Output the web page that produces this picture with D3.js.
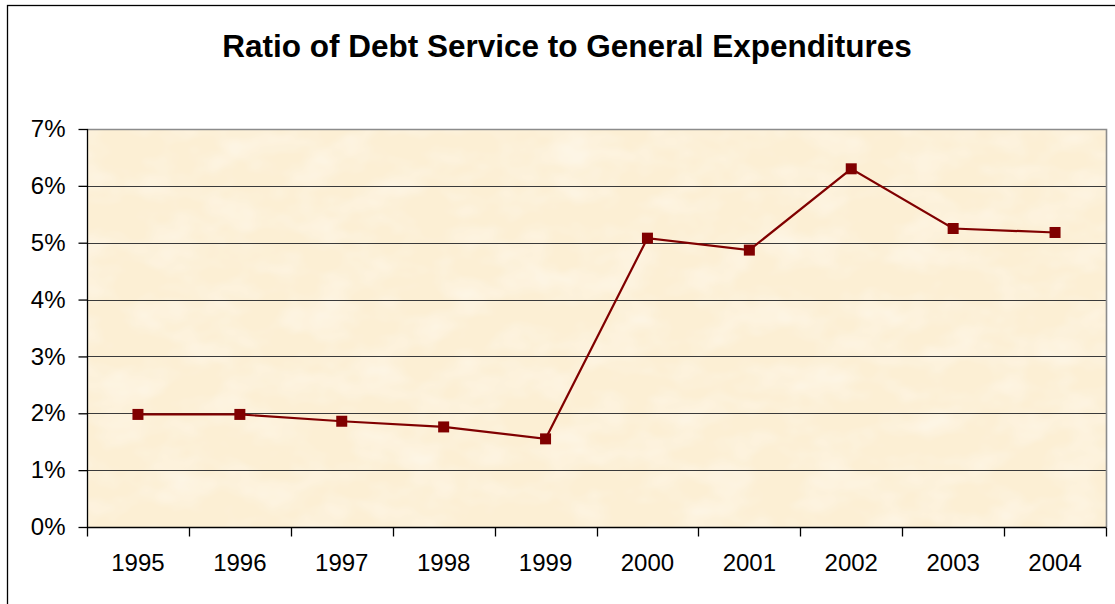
<!DOCTYPE html>
<html>
<head>
<meta charset="utf-8">
<script src="https://cdn.jsdelivr.net/npm/d3@7"></script>
<style>
  html, body { margin: 0; padding: 0; background: #ffffff; }
  svg { display: block; }
  text { font-family: "Liberation Sans", Arial, sans-serif; fill: #000; }
</style>
</head>
<body>
<svg id="chart" width="1115" height="604"></svg>
<script>
// Debt service as a share of general expenditures, by fiscal year
const years = ["1995", "1996", "1997", "1998", "1999", "2000", "2001", "2002", "2003", "2004"];
const ratios = [0.0198, 0.0198, 0.0186, 0.0176, 0.0155, 0.0508, 0.0487, 0.0630, 0.0525, 0.0518];
const yTicks = [0, 0.01, 0.02, 0.03, 0.04, 0.05, 0.06, 0.07];
const titleText = "Ratio of Debt Service to General Expenditures";

const svg = d3.select("#chart");
const W = 1115, H = 604;
const plot = { left: 87, right: 1106, top: 129, bottom: 527 };
const font = "'Liberation Sans', Arial, sans-serif";

// Outer chart frame
svg.append("rect")
  .attr("x", 7.5).attr("y", 5.5)
  .attr("width", W).attr("height", H)
  .attr("fill", "#fff").attr("stroke", "#000").attr("stroke-width", 1.3);

// Parchment texture for the plot area
const defs = svg.append("defs");
const filt = defs.append("filter").attr("id", "paper")
  .attr("x", 0).attr("y", 0).attr("width", "100%").attr("height", "100%");
filt.append("feTurbulence").attr("type", "fractalNoise")
  .attr("baseFrequency", "0.02 0.03").attr("numOctaves", 3).attr("seed", 11).attr("result", "noise");
filt.append("feColorMatrix").attr("in", "noise").attr("type", "matrix")
  .attr("values", "0 0 0 0 1  0 0 0 0 0.975  0 0 0 0 0.93  0.9 0 0 0 -0.35")
  .attr("result", "spots");
filt.append("feFlood").attr("flood-color", "#fcefd4").attr("result", "base");
filt.append("feComposite").attr("in", "spots").attr("in2", "base").attr("operator", "over");

const x = d3.scaleBand().domain(years).range([plot.left, plot.right]);
const y = d3.scaleLinear().domain([0, 0.07]).range([plot.bottom, plot.top]);

svg.append("rect")
  .attr("x", plot.left).attr("y", plot.top)
  .attr("width", plot.right - plot.left).attr("height", plot.bottom - plot.top)
  .attr("fill", "#fcefd4").attr("filter", "url(#paper)");

// Horizontal gridlines
svg.append("g").selectAll("line")
  .data(yTicks.filter(d => d > 0 && d < 0.07))
  .join("line")
  .attr("x1", plot.left).attr("x2", plot.right)
  .attr("y1", d => Math.round(y(d)) + 0.5).attr("y2", d => Math.round(y(d)) + 0.5)
  .attr("stroke", "#3a3a3a").attr("stroke-width", 1.2);

// Plot border: gray top and right edges
svg.append("path")
  .attr("d", `M${plot.left},${plot.top + 0.5}H${plot.right + 0.5}V${plot.bottom}`)
  .attr("fill", "none").attr("stroke", "#8c8c8c").attr("stroke-width", 1.6);

// Y axis
const yAxis = svg.append("g")
  .attr("transform", `translate(${plot.left + 0.5},0)`)
  .call(d3.axisLeft(y).tickValues(yTicks).tickFormat(d3.format(".0%")).tickSize(9).tickPadding(13));
yAxis.selectAll("text").attr("font-size", 24).style("font-family", font);
yAxis.selectAll("line, path").attr("stroke", "#000").attr("stroke-width", 1.3);
yAxis.select(".domain").attr("d", `M0,${plot.top}V${plot.bottom}`);

// X axis with ticks at category boundaries
const xAxis = svg.append("g")
  .attr("transform", `translate(0,${plot.bottom + 0.5})`)
  .call(d3.axisBottom(x).tickSize(0).tickPadding(26));
xAxis.selectAll("text").attr("font-size", 24).style("font-family", font);
xAxis.select(".domain").attr("d", `M${plot.left},0H${plot.right + 0.5}`)
  .attr("stroke", "#000").attr("stroke-width", 1.3);
xAxis.selectAll("line.bound")
  .data(years.map(d => x(d)).concat([plot.right]))
  .join("line").attr("class", "bound")
  .attr("x1", d => Math.round(d) + 0.5).attr("x2", d => Math.round(d) + 0.5)
  .attr("y1", 0).attr("y2", 9)
  .attr("stroke", "#000").attr("stroke-width", 1.3);

// Series line and square markers
const cx = d => x(d) + x.bandwidth() / 2;
svg.append("path")
  .datum(years.map((yr, i) => [cx(yr), y(ratios[i])]))
  .attr("d", d3.line())
  .attr("fill", "none").attr("stroke", "#800000").attr("stroke-width", 2.2);

svg.append("g").selectAll("rect")
  .data(years.map((yr, i) => ({ yr, v: ratios[i] })))
  .join("rect")
  .attr("x", d => cx(d.yr) - 5.5).attr("y", d => y(d.v) - 5.5)
  .attr("width", 11).attr("height", 11)
  .attr("fill", "#800000");

// Title
svg.append("text")
  .attr("x", 567).attr("y", 57)
  .attr("text-anchor", "middle")
  .attr("font-size", 31.5).attr("font-weight", "bold")
  .style("font-family", font)
  .text(titleText);
</script>
</body>
</html>
